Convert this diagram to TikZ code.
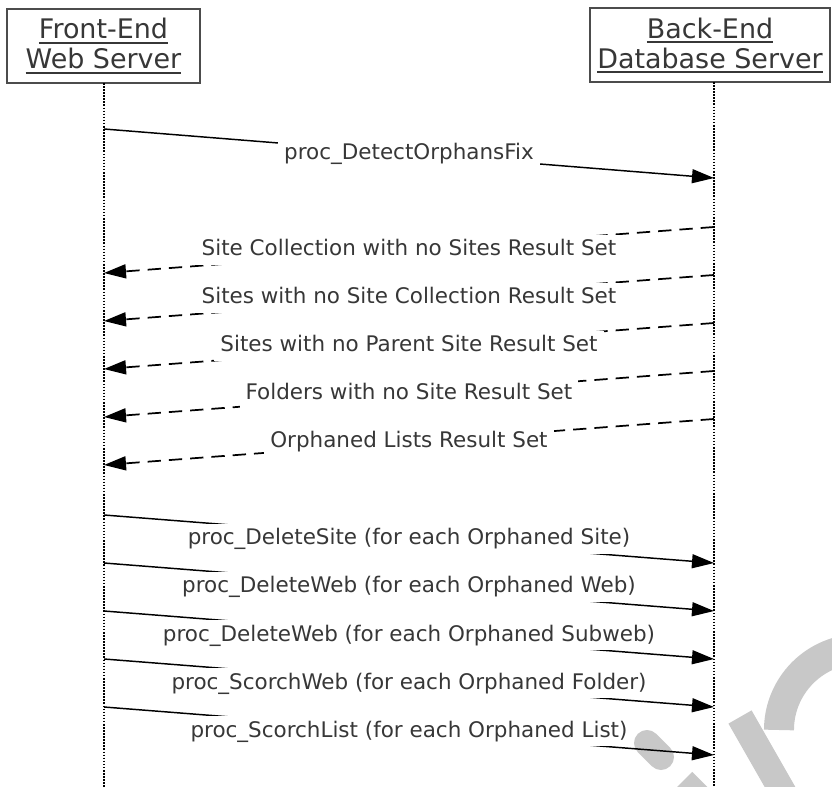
\documentclass[tikz,border=0pt]{standalone}
\usepackage{fontspec}
\setmainfont{DejaVu Sans}
\usetikzlibrary{arrows.meta}
\definecolor{txt}{RGB}{55,55,55}
\definecolor{wmgray}{RGB}{200,200,200}
\newcommand\hdrul[1]{\leavevmode\vtop{\hbox{#1}\kern2.2pt\hrule height 1.4pt}}
\begin{document}
\begin{tikzpicture}[x=0.75pt,y=-0.75pt,
  actor/.style={draw=black!70, line width=1.5pt, fill=white, align=center, text=txt,
    font=\fontsize{20.2}{22.5}\selectfont, inner sep=0pt, minimum height=55.5pt},
  life/.style={black, line width=1.3pt, dash pattern=on 1.2pt off 1.1pt},
  call/.style={line width=1.1pt, -{Triangle[length=16.5pt,width=10.5pt]}},
  reply/.style={line width=1.3pt, dash pattern=on 10pt off 6pt, -{Triangle[length=16.5pt,width=10.5pt]}},
  lbl/.style={fill=white, text=txt, font=\fontsize{16.1}{19}\selectfont,
    text height=13pt, text depth=4pt, inner xsep=4.5pt, inner ysep=3pt},
  wm/.style={wmgray, line width=19.5pt}
]
\useasboundingbox (0,0) rectangle (832,787);

% watermark fragments
\begin{scope}
\clip (0,0) rectangle (832,787);
\draw[wm, line width=22.5pt] (850.1,649.6) arc[start angle=263, end angle=180, radius=81];
\draw[wm, line width=20pt] (740,717) -- (792,808);
\draw[wm, line cap=round] (647,743) -- (661,757);
\draw[wm] (683,781) -- (720,818);
\end{scope}

% actors
\node[actor, minimum width=144.75pt] (fe) at (103.5,46) {\hdrul{Front-End}\\\hdrul{Web Server}};
\node[actor, minimum width=180pt] (be) at (710,45.5) {\hdrul{Back-End}\\\hdrul{Database Server}};

% lifelines
\coordinate (feTop) at (104,83);
\coordinate (feBot) at (104,787);
\coordinate (beTop) at (714,82);
\coordinate (beBot) at (714,787);
\draw[life] (feTop) -- (feBot);
\draw[life] (beTop) -- (beBot);

% message end points
\coordinate (m1a) at (104,129); \coordinate (m1b) at (714,178);
\coordinate (d1a) at (714,227); \coordinate (d1b) at (104,273);
\coordinate (d2a) at (714,275); \coordinate (d2b) at (104,321);
\coordinate (d3a) at (714,323); \coordinate (d3b) at (104,369);
\coordinate (d4a) at (714,371); \coordinate (d4b) at (104,417);
\coordinate (d5a) at (714,419); \coordinate (d5b) at (104,465);
\coordinate (s1a) at (104,515); \coordinate (s1b) at (714,563);
\coordinate (s2a) at (104,563); \coordinate (s2b) at (714,611);
\coordinate (s3a) at (104,611); \coordinate (s3b) at (714,659);
\coordinate (s4a) at (104,659); \coordinate (s4b) at (714,707);
\coordinate (s5a) at (104,707); \coordinate (s5b) at (714,755);

% messages
\draw[call] (m1a) -- node[lbl] (t1) {proc\_DetectOrphansFix} (m1b);
\draw[reply] (d1a) -- node[lbl] (r1) {Site Collection with no Sites Result Set} (d1b);
\draw[reply] (d2a) -- node[lbl] (r2) {Sites with no Site Collection Result Set} (d2b);
\draw[reply] (d3a) -- node[lbl] (r3) {Sites with no Parent Site Result Set} (d3b);
\draw[reply] (d4a) -- node[lbl] (r4) {Folders with no Site Result Set} (d4b);
\draw[reply] (d5a) -- node[lbl] (r5) {Orphaned Lists Result Set} (d5b);
\draw[call] (s1a) -- node[lbl] (u1) {proc\_DeleteSite (for each Orphaned Site)} (s1b);
\draw[call] (s2a) -- node[lbl] (u2) {proc\_DeleteWeb (for each Orphaned Web)} (s2b);
\draw[call] (s3a) -- node[lbl] (u3) {proc\_DeleteWeb (for each Orphaned Subweb)} (s3b);
\draw[call] (s4a) -- node[lbl] (u4) {proc\_ScorchWeb (for each Orphaned Folder)} (s4b);
\draw[call] (s5a) -- node[lbl] (u5) {proc\_ScorchList (for each Orphaned List)} (s5b);
\end{tikzpicture}
\end{document}
